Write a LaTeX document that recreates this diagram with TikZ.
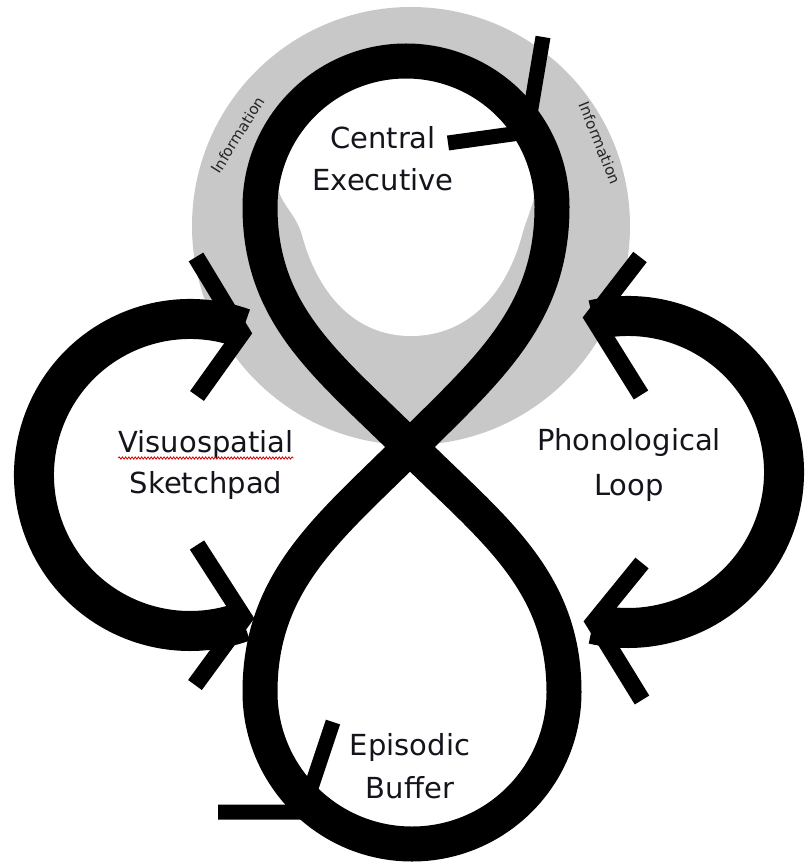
\documentclass[tikz,border=0pt]{standalone}
\usepackage{fontspec}
\setmainfont{DejaVu Sans}
\usetikzlibrary{decorations.pathmorphing}

\definecolor{ringgray}{RGB}{200,200,200}
\definecolor{labelink}{RGB}{20,20,28}

\tikzset{
  eightband/.style={line width=35pt, draw=black, line cap=butt},
  sideband/.style={line width=40pt, draw=black, line cap=butt},
  sidehead/.style={line width=17pt, draw=black, line join=miter, line cap=butt},
  eighthead/.style={line width=15pt, draw=black, line join=miter, line cap=butt},
  biglabel/.style={font=\fontsize{29}{42}\selectfont, text=labelink, anchor=base, inner sep=0pt},
  infolabel/.style={font=\fontsize{15}{18}\selectfont, text=black!85, inner sep=0pt},
}

\begin{document}
\begin{tikzpicture}[x=1pt,y=1pt]
\useasboundingbox (0,0) rectangle (807,-866);

% grey ring behind the central executive, with its opening
\fill[ringgray] (411,-226) circle[radius=219];
\fill[white] (411,-336) to[out=180,in=-75] (302,-235)
  to[out=105,in=-100] (278,-175)
  to[out=80,in=180] (406,-72)
  to[out=0,in=100] (534,-175)
  to[out=-80,in=75] (522,-235)
  to[out=-105,in=0] cycle;

% the figure-eight: upper and lower lobes crossing at the centre
\coordinate (X)  at (410,-447);
\coordinate (R1) at (552,-207);
\coordinate (R2) at (564,-692);
\draw[eightband] (X) to[out=45,in=-90] (R1)
  arc[start angle=0,end angle=180,radius=146]
  to[out=-90,in=135] (X)
  to[out=-45,in=90] (R2)
  arc[start angle=0,end angle=-180,radius=152]
  to[out=90,in=-135] (X);

% arrowheads riding on the figure-eight
\coordinate (ta) at (543,-37);
\coordinate (tt) at (527,-132);
\coordinate (tb) at (448,-143);
\draw[eighthead] (ta) -- (tt) -- (tb);
\coordinate (ba) at (333,-722);
\coordinate (bt) at (303,-812);
\coordinate (bb) at (218,-812);
\draw[eighthead] (ba) -- (bt) -- (bb);

% side loops
\coordinate (VSc) at (190,-475);
\coordinate (PLc) at (628,-472);
\draw[sideband] ([shift={(70:156)}]VSc) arc[start angle=70,end angle=290,radius=156];
\draw[sideband] ([shift={(103:156)}]PLc) arc[start angle=103,end angle=-103,radius=156];

% open arrowheads at the ends of the side loops
\coordinate (l1a) at (196,-257); \coordinate (l1t) at (242,-333); \coordinate (l1b) at (197,-396);
\coordinate (l2a) at (197,-545); \coordinate (l2t) at (244,-618); \coordinate (l2b) at (195,-685);
\coordinate (r1a) at (640,-257); \coordinate (r1t) at (593,-318); \coordinate (r1b) at (641,-395);
\coordinate (r2a) at (642,-563); \coordinate (r2t) at (594,-622); \coordinate (r2b) at (642,-700);
\draw[sidehead] (l1a) -- (l1t) -- (l1b);
\draw[sidehead] (l2a) -- (l2t) -- (l2b);
\draw[sidehead] (r1a) -- (r1t) -- (r1b);
\draw[sidehead] (r2a) -- (r2t) -- (r2b);

% labels
\node[biglabel] (ce1) at (383,-149) {Central};
\node[biglabel] (ce2) at (383,-191) {Executive};
\node[biglabel] (vs1) at (206,-452) {Visuospatial};
\node[biglabel] (vs2) at (206,-493) {Sketchpad};
\node[biglabel] (pl1) at (629,-450) {Phonological};
\node[biglabel] (pl2) at (629,-495) {Loop};
\node[biglabel] (eb1) at (410,-755) {Episodic};
\node[biglabel] (eb2) at (410,-798) {Buffer};

% spell-check squiggle under the first word
\draw[red!85!black, line width=0.8pt, decorate,
      decoration={snake, amplitude=1.1pt, segment length=3.2pt}]
  (vs1.south west |- 0,-458) -- (vs1.south east |- 0,-458);

% ring captions
\node[infolabel, rotate=58] (infoL) at (238,-135) {Information};
\node[infolabel, rotate=-68] (infoR) at (600,-143) {Information};
\end{tikzpicture}
\end{document}
